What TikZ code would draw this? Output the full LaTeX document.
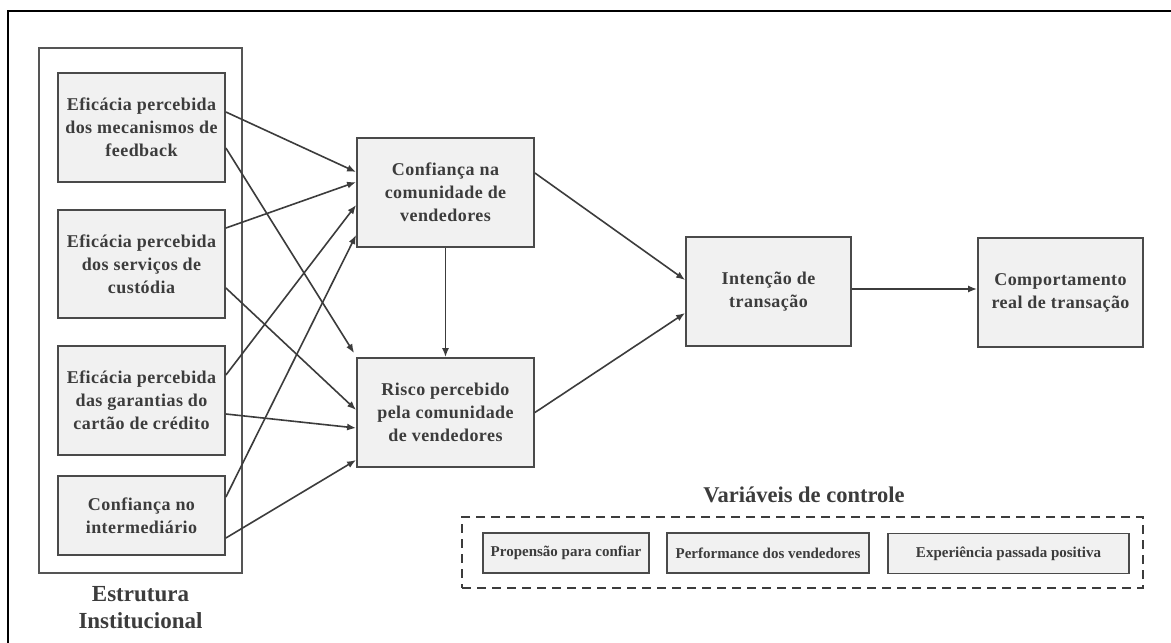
\documentclass[tikz,border=0pt]{standalone}
\usepackage{fontspec}
\setmainfont{Liberation Serif}
\newfontfamily\spacedserif{Liberation Serif}[LetterSpace=2.5]
\usetikzlibrary{arrows.meta}
\definecolor{boxfill}{HTML}{F1F1F1}
\definecolor{boxline}{HTML}{4A4A4A}
\definecolor{ink}{HTML}{3C3C3C}
\definecolor{frameline}{HTML}{555555}
\begin{document}
\begin{tikzpicture}[x=1pt,y=-1pt,
  box/.style={draw=boxline, line width=1.8pt, fill=boxfill, text=ink, align=center,
    inner sep=0pt, font=\spacedserif\fontsize{18}{23}\selectfont\bfseries},
  ctrl/.style={draw=boxline, line width=1.8pt, fill=boxfill, text=ink, inner sep=0pt,
    minimum height=40pt, font=\fontsize{15}{18}\selectfont\bfseries},
  group/.style={draw=frameline, line width=1.5pt, inner sep=0pt},
  label/.style={text=ink, align=center, inner sep=0pt},
  link/.style={draw=ink, line width=1.6pt, -{Latex[length=9pt,width=7pt]}},
]
\useasboundingbox (0,0) rectangle (1171,643);
\fill[white] (0,0) rectangle (1171,643);

% outer page frame
\draw[black, line width=2pt] (7.5,660) -- (7.5,10.5) -- (1185,10.5);

% institutional structure group
\node[group, minimum width=203pt, minimum height=525pt] (inst) at (140.5,310.5) {};
\node[label, font=\fontsize{23}{27}\selectfont\bfseries] (instlabel) at (140.5,608)
  {Estrutura\\Institucional};

\node[box, minimum width=167pt, minimum height=109pt] (b1) at (141.5,127.5)
  {Eficácia percebida\\dos mecanismos de\\feedback};
\node[box, minimum width=167pt, minimum height=108pt] (b2) at (141.5,264)
  {Eficácia percebida\\dos serviços de\\custódia};
\node[box, minimum width=167pt, minimum height=109pt] (b3) at (141.5,400.5)
  {Eficácia percebida\\das garantias do\\cartão de crédito};
\node[box, minimum width=167pt, minimum height=79pt] (b4) at (141.5,515.5)
  {Confiança no\\intermediário};

% mediators and outcomes
\node[box, minimum width=177pt, minimum height=109pt] (conf) at (445.5,192.5)
  {Confiança na\\comunidade de\\vendedores};
\node[box, minimum width=177pt, minimum height=109pt] (risk) at (445.5,412.5)
  {Risco percebido\\pela comunidade\\de vendedores};
\node[box, minimum width=165pt, minimum height=109pt] (intent) at (768.5,291.5)
  {Intenção de\\transação};
\node[box, minimum width=165pt, minimum height=109pt] (behav) at (1060.5,292.5)
  {Comportamento\\real de transação};

% control variables
\node[label, font=\fontsize{22.5}{27}\selectfont\bfseries, anchor=base] (ctrltitle)
  at (804,502) {Variáveis de controle};
\node[draw=ink, line width=1.5pt, dash pattern=on 9pt off 6pt, inner sep=0pt,
  minimum width=681pt, minimum height=71pt] (ctrlframe) at (802.5,552.5) {};
\node[ctrl, minimum width=166pt] (c1) at (566,553) {Propensão para confiar};
\node[ctrl, minimum width=202pt] (c2) at (768,553) {Performance dos vendedores};
\node[ctrl, minimum width=241pt] (c3) at (1008.5,553.5) {Experiência passada positiva};

% paths
\draw[link] ([yshift=15.5pt]b1.east) -- ([yshift=20.5pt]conf.west);
\draw[link] ([yshift=-20.5pt]b1.east) -- ([xshift=-2pt,yshift=4pt]risk.north west);
\draw[link] ([yshift=36pt]b2.east) -- ([yshift=10.5pt]conf.west);
\draw[link] ([yshift=-24pt]b2.east) -- ([yshift=2.5pt]risk.west);
\draw[link] ([yshift=25.5pt]b3.east) -- ([yshift=-12.5pt]conf.west);
\draw[link] ([yshift=-13.5pt]b3.east) -- ([yshift=-15.5pt]risk.west);
\draw[link] ([yshift=18.5pt]b4.east) -- ([yshift=-42.5pt]conf.west);
\draw[link] ([yshift=-22.5pt]b4.east) -- ([yshift=-47.5pt]risk.west);
\draw[link] (conf.south) -- (risk.north);
\draw[link] ([yshift=19.5pt]conf.east) -- ([yshift=11.5pt]intent.west);
\draw[link] (risk.east) -- ([yshift=-21.5pt]intent.west);
\draw[link] ([yshift=2.5pt]intent.east) -- ([yshift=3.5pt]behav.west);
\end{tikzpicture}
\end{document}
